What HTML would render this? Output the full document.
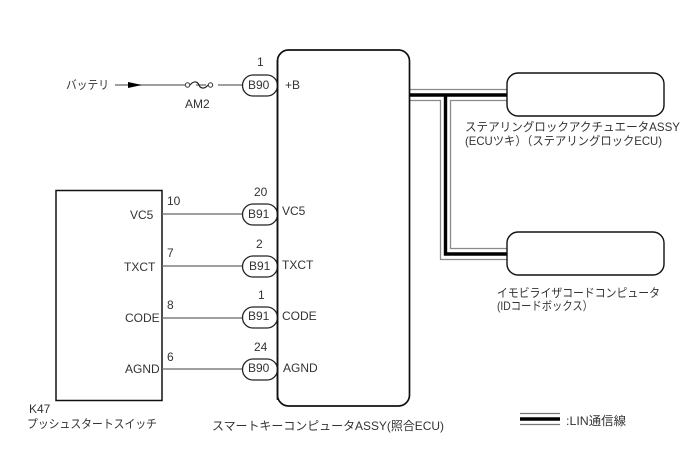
<!DOCTYPE html>
<html><head><meta charset="utf-8">
<style>
html,body{margin:0;padding:0;background:#fff}
svg{display:block}
text{font-family:"Liberation Sans","Noto Sans CJK JP",sans-serif;font-size:12px;fill:#333}
</style></head><body>
<svg width="688" height="463" viewBox="0 0 688 463" xmlns="http://www.w3.org/2000/svg">
<!-- LIN wiring -->
<g fill="none" stroke="#8a8a8a" stroke-width="1.3">
<path d="M410 89.5H507"/>
<path d="M410 100.5H440.5V259.5H507"/>
<path d="M507 100.5H450.5V248.5H507"/>
</g>
<path d="M410 95H507M445.5 95V254H507" fill="none" stroke="#000" stroke-width="3.4"/>
<!-- boxes -->
<rect x="277.5" y="50" width="132" height="356" rx="11" fill="#fff" stroke="#111" stroke-width="1.7"/>
<rect x="56" y="190.5" width="106" height="210" fill="#fff" stroke="#111" stroke-width="1.5"/>
<rect x="507" y="73" width="157" height="43" rx="11" fill="#fff" stroke="#111" stroke-width="1.4"/>
<rect x="507" y="232" width="157" height="43" rx="11" fill="#fff" stroke="#111" stroke-width="1.4"/>
<!-- signal wires -->
<g stroke="#666" stroke-width="1.3" fill="none">
<path d="M115 85H185M196 85H206M218 85H242"/>
<path d="M162 214H242M162 266H242M162 318H242M162 369H242"/>
</g>
<path d="M128 82L142 85L128 88Z" fill="#000"/>
<!-- fuse -->
<circle cx="187.5" cy="85" r="2.2" fill="#fff" stroke="#333"/>
<circle cx="210.5" cy="85" r="2.2" fill="#fff" stroke="#333"/>
<path d="M190 85C194 80 198 82 199 85C200 88 204 90 208 85" fill="none" stroke="#222" stroke-width="1.2"/>
<!-- connectors -->
<g fill="#fff" stroke="#222" stroke-width="1.3">
<rect x="242.5" y="75" width="35" height="21" rx="10.5"/>
<rect x="242.5" y="204" width="35" height="21" rx="10.5"/>
<rect x="242.5" y="256" width="35" height="21" rx="10.5"/>
<rect x="242.5" y="307" width="35" height="21" rx="10.5"/>
<rect x="242.5" y="359" width="35" height="21" rx="10.5"/>
</g>
<path d="M277.5 60V400" stroke="#111" stroke-width="1.7"/>
<g>
<text x="248" y="89">B90</text>
<text x="248" y="218">B91</text>
<text x="249" y="270">B91</text>
<text x="248" y="320">B91</text>
<text x="248" y="372">B90</text>
<text x="257" y="66">1</text>
<text x="254" y="196">20</text>
<text x="256" y="248">2</text>
<text x="258" y="299">1</text>
<text x="254" y="351">24</text>
<text x="285" y="89">+B</text>
<text x="282" y="215">VC5</text>
<text x="282" y="269">TXCT</text>
<text x="282" y="320">CODE</text>
<text x="283" y="372">AGND</text>
<text x="130" y="219">VC5</text>
<text x="124" y="271">TXCT</text>
<text x="125" y="322">CODE</text>
<text x="125" y="373">AGND</text>
<text x="167" y="205">10</text>
<text x="167" y="257">7</text>
<text x="167" y="309">8</text>
<text x="167" y="361">6</text>
<text x="185" y="108">AM2</text>
<text x="29" y="413">K47</text>
</g>
<g>
<text x="66" y="89" textLength="43" lengthAdjust="spacingAndGlyphs">バッテリ</text>
<text x="27" y="428" textLength="130" lengthAdjust="spacingAndGlyphs">プッシュスタートスイッチ</text>
<text x="212" y="430" textLength="232" lengthAdjust="spacingAndGlyphs">スマートキーコンピュータASSY(照合ECU)</text>
<text x="465" y="131" textLength="215" lengthAdjust="spacingAndGlyphs">ステアリングロックアクチュエータASSY</text>
<text x="465" y="145" textLength="197" lengthAdjust="spacingAndGlyphs">(ECUツキ）（ステアリングロックECU)</text>
<text x="497" y="297" textLength="163" lengthAdjust="spacingAndGlyphs">イモビライザコードコンピュータ</text>
<text x="497" y="310" textLength="96" lengthAdjust="spacingAndGlyphs">(IDコードボックス）</text>
<text x="566" y="425" textLength="60" lengthAdjust="spacingAndGlyphs">:LIN通信線</text>
</g>
<!-- legend -->
<path d="M520 413.5H560M520 424.5H560" stroke="#777" stroke-width="1.3"/>
<path d="M520 419H560" stroke="#000" stroke-width="3.5"/>
</svg>
</body></html>
